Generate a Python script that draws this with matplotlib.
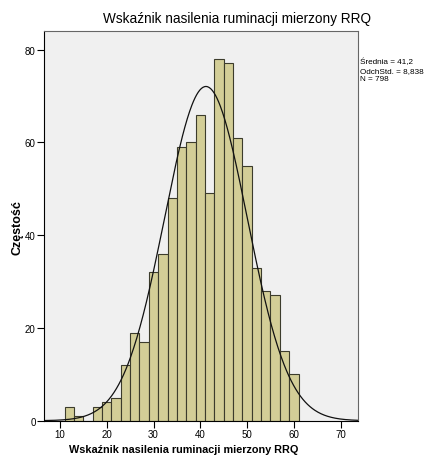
import numpy as np
import matplotlib
matplotlib.use('Agg')
from matplotlib import pyplot as plt

# histogram bins (width 2, from 11 to 61) and counts
bin_edges = list(range(11, 63, 2))
counts = [3, 1, 0, 3, 4, 5, 12, 19, 17, 32, 36, 48, 59, 60, 66,
          49, 78, 77, 61, 55, 33, 28, 27, 15, 10]
mean, sd, n = 41.2, 8.838, 798
xticks = [10, 20, 30, 40, 50, 60, 70]
yticks = [0, 20, 40, 60, 80]
title = 'Wskaźnik nasilenia ruminacji mierzony RRQ'
stats = ['Średnia = 41,2', 'OdchStd. = 8,838', 'N = 798']

plt.rcParams['font.family'] = ['Liberation Sans', 'DejaVu Sans']

fig = plt.figure(figsize=(4.26, 4.64), dpi=100)
ax = fig.add_axes([44/426, 1-421.7/464, (358-44)/426, (421.7-32)/464])
ax.set_facecolor('#f0f0f0')

left = np.array(bin_edges[:-1])
ax.bar(left, counts, width=2, align='edge', color='#d3ce97',
       edgecolor='#3c3c2c', linewidth=0.8)

x = np.linspace(6.6, 73.7, 400)
w = bin_edges[1] - bin_edges[0]
y = n * w / (sd * np.sqrt(2*np.pi)) * np.exp(-0.5*((x-mean)/sd)**2)
ax.plot(x, y, color='#111111', linewidth=0.9)

ax.set_xlim(6.6, 73.7)
ax.set_ylim(0, 84)
ax.set_xticks(xticks)
ax.set_yticks(yticks)
ax.tick_params(labelsize=7, length=5, width=0.8, pad=1)
for s in ['top', 'right']:
    ax.spines[s].set_color('#666666')
for s in ['left', 'bottom']:
    ax.spines[s].set_color('black')

fig.text(237/426, 1-19/464, title, ha='center', va='center', fontsize=9.8)
fig.text(184/426, 1-450/464, title, ha='center', va='center',
         fontsize=7.8, fontweight='bold')
fig.text(17/426, 1-228/464, 'Częstość', ha='center', va='center',
         rotation=90, fontsize=9, fontweight='bold')
fig.text(360/426, 1-59/464, '\n'.join(stats), ha='left', va='top',
         fontsize=5.9, linespacing=1.3)

fig.savefig('out.png', dpi=100, facecolor='white')
